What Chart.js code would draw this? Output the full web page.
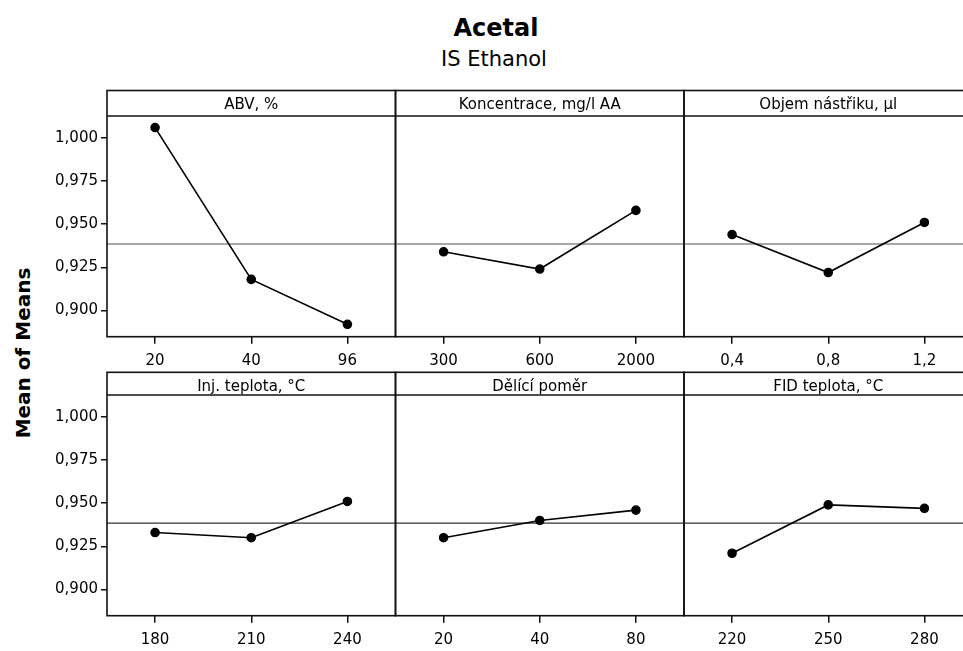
<!DOCTYPE html>
<html>
<head>
<meta charset="utf-8">
<script src="https://cdn.jsdelivr.net/npm/chart.js@4/dist/chart.umd.min.js"></script>
<style>
html, body { margin: 0; padding: 0; background: #fff; overflow: hidden; }
#wrap { position: relative; width: 963px; height: 651px; overflow: hidden; }
canvas { position: absolute; }
.txt { position: absolute; font-family: "DejaVu Sans", sans-serif; color: #000; line-height: 1; white-space: nowrap; }
#title { left: 496px; top: 16px; font-size: 24px; font-weight: bold; transform: translateX(-50%); }
#subtitle { left: 494px; top: 49px; font-size: 21px; transform: translateX(-50%); }
#ylab { left: 23px; top: 353px; font-size: 20px; font-weight: bold; transform: translate(-50%, -50%) rotate(-90deg); }
</style>
</head>
<body>
<div id="wrap">
	<div class="txt" id="title">Acetal</div>
	<div class="txt" id="subtitle">IS Ethanol</div>
	<div class="txt" id="ylab">Mean of Means</div>
	<canvas id="p0"></canvas>
	<canvas id="p1"></canvas>
	<canvas id="p2"></canvas>
	<canvas id="p3"></canvas>
	<canvas id="p4"></canvas>
	<canvas id="p5"></canvas>
</div>
<script>
// factor names (panel headers)
const factorNames = ['ABV, %', 'Koncentrace, mg/l AA', 'Objem nástřiku, µl',
	'Inj. teplota, °C', 'Dělící poměr', 'FID teplota, °C'];

// factor levels (x tick labels)
const abvLevels = ['20', '40', '96'];
const koncLevels = ['300', '600', '2000'];
const objemLevels = ['0,4', '0,8', '1,2'];
const injLevels = ['180', '210', '240'];
const pomerLevels = ['20', '40', '80'];
const fidLevels = ['220', '250', '280'];

// mean of means per level
const abvMeans = [1.006, 0.918, 0.892];
const koncMeans = [0.934, 0.924, 0.958];
const objemMeans = [0.944, 0.922, 0.951];
const injMeans = [0.933, 0.930, 0.951];
const pomerMeans = [0.930, 0.940, 0.946];
const fidMeans = [0.921, 0.949, 0.947];

const grandMean = 0.9385;
const yTicks = [0.900, 0.925, 0.950, 0.975, 1.000];
const yMin = 0.8848, yMax = 1.0127;

const levels = [abvLevels, koncLevels, objemLevels, injLevels, pomerLevels, fidLevels];
const means = [abvMeans, koncMeans, objemMeans, injMeans, pomerMeans, fidMeans];

const font = '"DejaVu Sans", sans-serif';
const colEdges = [107, 395.5, 684, 972.5];

// panel frame, header line and grand-mean reference line
const panelFrame = {
	id: 'panelFrame',
	beforeDatasetsDraw(chart) {
		const ctx = chart.ctx, ca = chart.chartArea;
		const y = chart.scales.y.getPixelForValue(grandMean);
		const row = chart.options.plugins.panelFrame.row;
		ctx.save();
		ctx.strokeStyle = row === 0 ? '#8a8a8a' : '#333';
		ctx.lineWidth = row === 0 ? 1.6 : 1.2;
		ctx.beginPath();
		ctx.moveTo(ca.left, y);
		ctx.lineTo(ca.right, y);
		ctx.stroke();
		ctx.restore();
	},
	afterDraw(chart) {
		const ctx = chart.ctx, ca = chart.chartArea;
		const top = chart.titleBlock.top;
		ctx.save();
		ctx.strokeStyle = '#111';
		ctx.lineWidth = 1.6;
		ctx.strokeRect(ca.left, top, ca.right - ca.left, ca.bottom - top);
		ctx.beginPath();
		ctx.moveTo(ca.left, ca.top);
		ctx.lineTo(ca.right, ca.top);
		ctx.stroke();
		ctx.restore();
	}
};

function makePanel(i) {
	const col = i % 3, row = Math.floor(i / 3);
	const canvas = document.getElementById('p' + i);
	const left = col === 0 ? 0 : Math.floor(colEdges[col]) - 10;
	const width = Math.ceil(colEdges[col + 1]) + 11 - left;
	const top = row === 0 ? 80 : 362;
	const height = 290;
	canvas.width = width;
	canvas.height = height;
	canvas.style.left = left + 'px';
	canvas.style.top = top + 'px';

	const frameTop = row === 0 ? 90.5 : 372.3;
	const plotBottom = row === 0 ? 336.7 : 615.7;
	const titlePad = row === 0 ? { top: 7.55, bottom: 2.95 } : { top: 7.45, bottom: 0.25 };

	return new Chart(canvas, {
		type: 'line',
		data: {
			labels: levels[i],
			datasets: [{
				data: means[i],
				borderColor: '#000',
				backgroundColor: '#000',
				borderWidth: 1.6,
				pointRadius: 4,
				pointHoverRadius: 4,
				tension: 0
			}]
		},
		options: {
			responsive: false,
			animation: false,
			events: [],
			layout: {
				padding: {
					left: col === 0 ? 0 : colEdges[col] - left,
					right: left + width - colEdges[col + 1],
					top: frameTop - top,
					bottom: top + height - plotBottom - 30
				}
			},
			plugins: {
				legend: { display: false },
				tooltip: { enabled: false },
				title: {
					display: true,
					text: factorNames[i],
					fullSize: false,
					color: '#000',
					font: { family: font, size: 15, weight: 'normal', lineHeight: 1 },
					padding: titlePad
				},
				panelFrame: { row: row }
			},
			scales: {
				x: {
					offset: true,
					grid: { display: true, drawOnChartArea: false, drawTicks: true, tickLength: 7, color: '#111', lineWidth: 1.5 },
					border: { display: false },
					ticks: { color: '#000', font: { family: font, size: 15 }, padding: 8, maxRotation: 0, autoSkip: false },
					afterFit: (s) => { s.height = 30; }
				},
				y: {
					display: col === 0,
					min: yMin,
					max: yMax,
					afterBuildTicks: (s) => { s.ticks = yTicks.map(v => ({ value: v })); },
					grid: { display: true, drawOnChartArea: false, drawTicks: true, tickLength: 6, color: '#111', lineWidth: 1.5 },
					border: { display: false },
					ticks: {
						color: '#000',
						font: { family: font, size: 15 },
						padding: 3,
						callback: (v) => v.toFixed(3).replace('.', ',')
					},
					afterFit: (s) => { s.width = col === 0 ? 107 : 0; }
				}
			}
		},
		plugins: [panelFrame]
	});
}

for (let i = 0; i < 6; i++) makePanel(i);
</script>
</body>
</html>
